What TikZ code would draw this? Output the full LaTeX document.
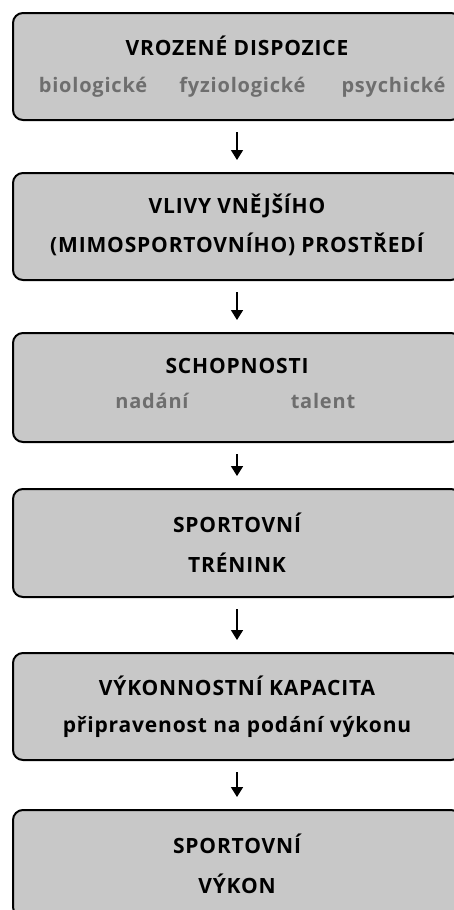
\documentclass[tikz,border=0pt]{standalone}
\usepackage{fontspec}
\setmainfont{Open Sans}[LetterSpace=4]
\usetikzlibrary{arrows.meta}
\definecolor{boxfill}{HTML}{C8C8C8}
\definecolor{subgray}{HTML}{6E6E6E}
\tikzset{
  stagebox/.style={draw=black, line width=2pt, fill=boxfill, rounded corners=10pt,
    minimum width=448pt, inner sep=0pt},
  head/.style={anchor=base, font=\fontsize{21}{24}\selectfont\bfseries, text=black, inner sep=0pt},
  sub/.style={anchor=base, font=\fontsize{20}{24}\selectfont\bfseries, text=subgray, inner sep=0pt},
  flow/.style={draw=black, line width=1.6pt, -{Triangle[length=10pt,width=12pt]},
    shorten <=11pt, shorten >=12pt}
}
\begin{document}
\begin{tikzpicture}[x=1pt,y=-1pt]
\useasboundingbox (0,0) rectangle (453,910);
\node[stagebox, minimum height=107pt] (b1) at (237,66.5) {};
\node[stagebox, minimum height=107pt] (b2) at (237,226.5) {};
\node[stagebox, minimum height=109pt] (b3) at (237,387.5) {};
\node[stagebox, minimum height=108pt] (b4) at (237,543) {};
\node[stagebox, minimum height=107pt] (b5) at (237,706.5) {};
\node[stagebox, minimum height=107pt] (b6) at (237,863.5) {};

\node[head] (t1) at (237,55) {VROZENÉ DISPOZICE};
\node[sub] (s1a) at (93,92) {biologické};
\node[sub] (s1b) at (242.5,92) {fyziologické};
\node[sub] (s1c) at (393.5,92) {psychické};

\node[head] (t2) at (237,213) {VLIVY VNĚJŠÍHO};
\node[head] (t2b) at (237,252.5) {(MIMOSPORTOVNÍHO) PROSTŘEDÍ};

\node[head] (t3) at (237,373) {SCHOPNOSTI};
\node[sub] (s3a) at (152,408) {nadání};
\node[sub] (s3b) at (323,408) {talent};

\node[head] (t4) at (237,532) {SPORTOVNÍ};
\node[head] (t4b) at (237,572) {TRÉNINK};

\node[head] (t5) at (237,695) {VÝKONNOSTNÍ KAPACITA};
\node[head] (t5b) at (237,732) {připravenost na podání výkonu};

\node[head] (t6) at (237,853) {SPORTOVNÍ};
\node[head] (t6b) at (237,893) {VÝKON};

\draw[flow] (b1) -- (b2);
\draw[flow] (b2) -- (b3);
\draw[flow] (b3) -- (b4);
\draw[flow] (b4) -- (b5);
\draw[flow] (b5) -- (b6);
\end{tikzpicture}
\end{document}
